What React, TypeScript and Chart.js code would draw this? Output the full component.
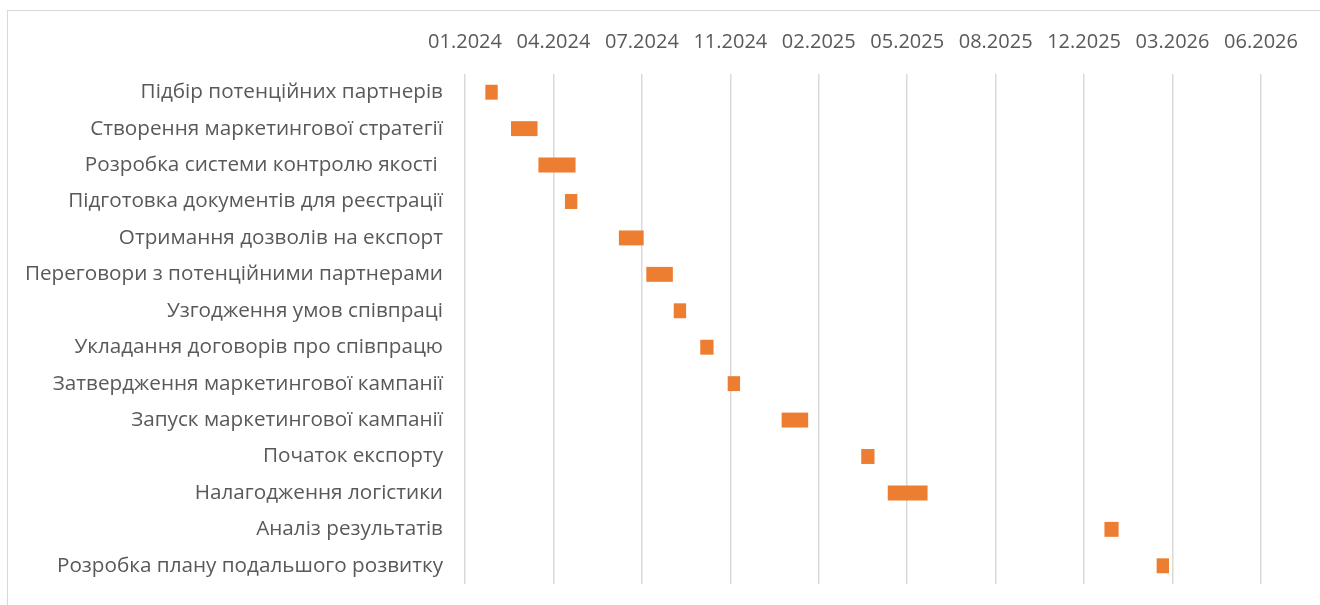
import React, { useEffect, useRef } from 'react';
import { Chart, registerables } from 'chart.js';

Chart.register(...registerables);

const tasks: string[] = [
  'Підбір потенційних партнерів',
  'Створення маркетингової стратегії',
  'Розробка системи контролю якості ',
  'Підготовка документів для реєстрації',
  'Отримання дозволів на експорт',
  'Переговори з потенційними партнерами',
  'Узгодження умов співпраці',
  'Укладання договорів про співпрацю',
  'Затвердження маркетингової кампанії',
  'Запуск маркетингової кампанії',
  'Початок експорту',
  'Налагодження логістики',
  'Аналіз результатів',
  'Розробка плану подальшого розвитку',
];

const startDates: string[] = [
  '2024-02-01', '2024-03-01', '2024-04-01', '2024-05-01', '2024-07-01',
  '2024-08-01', '2024-09-01', '2024-10-01', '2024-11-01', '2025-01-01',
  '2025-04-01', '2025-05-01', '2026-01-01', '2026-03-01',
];

const endDates: string[] = [
  '2024-02-15', '2024-03-31', '2024-05-13', '2024-05-15', '2024-07-29',
  '2024-08-31', '2024-09-15', '2024-10-16', '2024-11-15', '2025-01-31',
  '2025-04-16', '2025-06-15', '2026-01-17', '2026-03-15',
];

const axisStart = '2024-01-09';
const axisEnd = '2026-06-27';
const tickStepDays = 100;

const toDay = (s: string): number => {
  const [y, m, d] = s.split('-').map(Number);
  return Date.UTC(y, m - 1, d) / 86400000;
};

const fmtTick = (v: number): string => {
  const dt = new Date(Math.round(v) * 86400000);
  return String(dt.getUTCMonth() + 1).padStart(2, '0') + '.' + dt.getUTCFullYear();
};

const CAT_FONT = { family: "'Open Sans', sans-serif", size: 20.7 };
const TICK_FONT = { family: "'Open Sans', sans-serif", size: 20 };
const TEXT = '#595959';

export default function App() {
  const ref = useRef<HTMLCanvasElement>(null);

  useEffect(() => {
    if (!ref.current) return;
    const chart = new Chart(ref.current, {
      type: 'bar',
      data: {
        labels: tasks,
        datasets: [
          {
            data: tasks.map((_, i) => [toDay(startDates[i]), toDay(endDates[i])]) as any,
            backgroundColor: '#ED7D31',
            borderWidth: 0,
            barPercentage: 0.41,
            categoryPercentage: 1,
          },
        ],
      },
      options: {
        indexAxis: 'y',
        responsive: false,
        animation: false,
        devicePixelRatio: 1,
        layout: { padding: { top: 0, bottom: 21, right: 59, left: 0 } },
        plugins: { legend: { display: false }, tooltip: { enabled: false } },
        scales: {
          x: {
            type: 'linear',
            position: 'top',
            min: toDay(axisStart),
            max: toDay(axisEnd),
            ticks: {
              stepSize: tickStepDays,
              callback: (v: any) => fmtTick(Number(v)),
              color: TEXT,
              font: TICK_FONT,
              padding: 20,
              maxRotation: 0,
              autoSkip: false,
            },
            grid: { color: '#d9d9d9', lineWidth: 1.5, drawTicks: false },
            border: { display: false },
            afterFit: (s: any) => {
              s.height = 74;
            },
          },
          y: {
            ticks: { color: TEXT, font: CAT_FONT, padding: 22, autoSkip: false },
            grid: { display: false, drawTicks: false },
            border: { display: false },
            afterFit: (s: any) => {
              s.width = 465;
              s.paddingTop = 0;
              s.paddingBottom = 0;
            },
          },
        },
      },
    });
    return () => chart.destroy();
  }, []);

  return (
    <div style={{ position: 'fixed', left: 0, top: 0, width: 1320, height: 605, background: '#fff', overflow: 'hidden' }}>
      <div
        style={{
          position: 'absolute',
          left: 7,
          top: 10,
          width: 1340,
          height: 640,
          border: '1px solid #d9d9d9',
          boxSizing: 'border-box',
        }}
      />
      <canvas ref={ref} width={1320} height={605} style={{ position: 'absolute', left: 0, top: 0 }} />
    </div>
  );
}
